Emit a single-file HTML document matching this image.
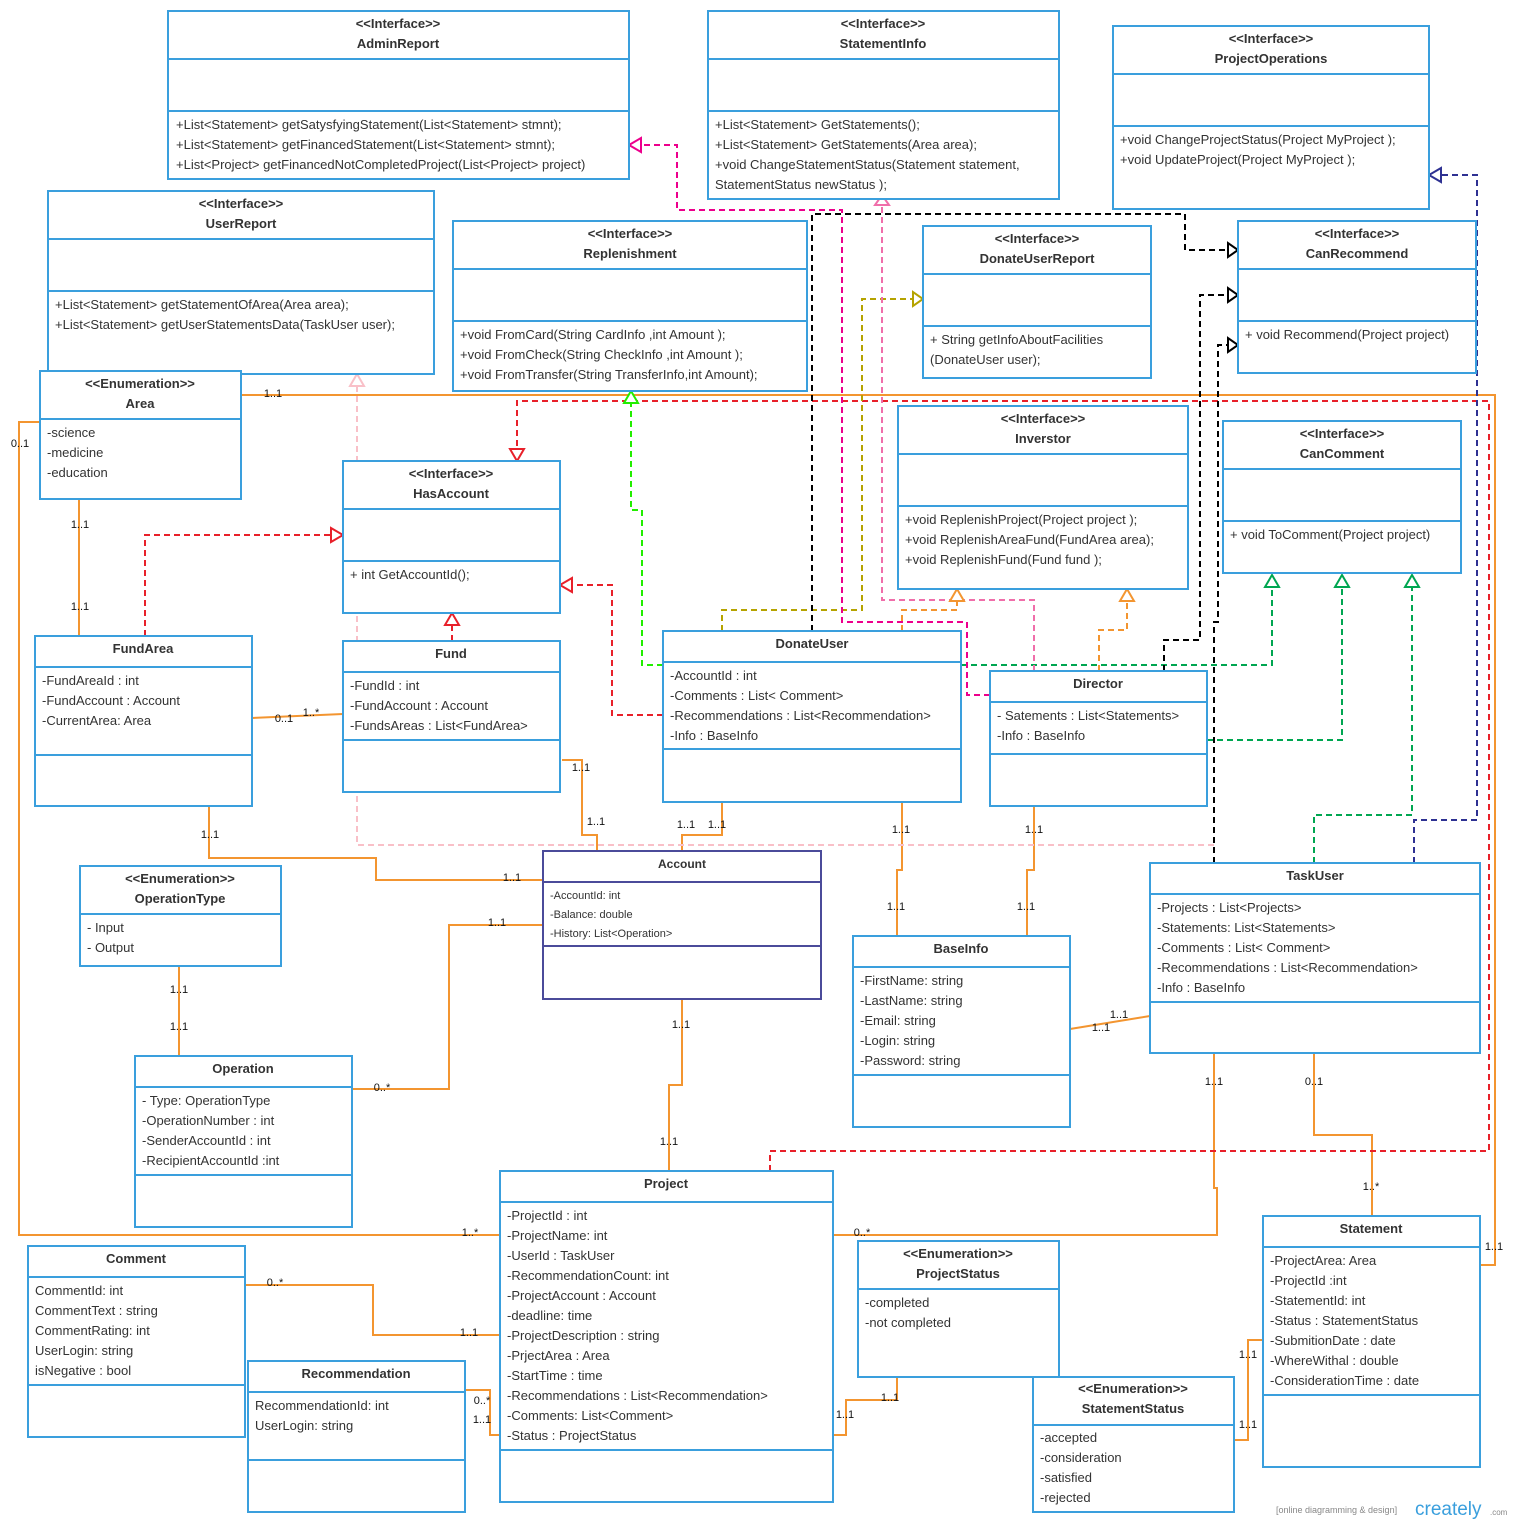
<!DOCTYPE html>
<html><head><meta charset="utf-8"><style>
body{margin:0;background:#fff}
svg text{font-family:"Liberation Sans",sans-serif;fill:#333}
.t{font-size:13px;font-weight:bold;text-anchor:middle}
.a{font-size:13px}
.s{font-size:11px}
.l{font-size:11px;fill:#111;text-anchor:middle}
.b{fill:#fff;stroke:#3a9fdd;stroke-width:2}
.o{fill:none;stroke:#f39530;stroke-width:2}
.d{fill:none;stroke-width:2;stroke-dasharray:6,4}
</style></head><body>
<svg width="1514" height="1525" xmlns="http://www.w3.org/2000/svg">
<!-- connectors -->
<g>
<polyline class="o" points="241,395 1495,395 1495,1265 1480,1265"/>
<polyline class="o" points="40,422 19,422 19,1235 500,1235"/>
<polyline class="o" points="79,499 79,636"/>
<polyline class="o" points="252,718 343,714"/>
<polyline class="o" points="209,806 209,858 376,858 376,880 543,880"/>
<polyline class="o" points="562,760 582,760 582,835 597,835 597,851"/>
<polyline class="o" points="722,802 722,835 682,835 682,851"/>
<polyline class="o" points="543,925 449,925 449,1089 352,1089"/>
<polyline class="o" points="682,999 682,1085 669,1085 669,1171"/>
<polyline class="o" points="902,802 902,870 897,870 897,936"/>
<polyline class="o" points="1034,806 1034,870 1027,870 1027,936"/>
<polyline class="o" points="1070,1029 1150,1016"/>
<polyline class="o" points="179,966 179,1056"/>
<polyline class="o" points="1214,1053 1214,1188 1217,1188 1217,1235 833,1235"/>
<polyline class="o" points="1314,1053 1314,1135 1372,1135 1372,1216"/>
<polyline class="o" points="245,1285 373,1285 373,1335 500,1335"/>
<polyline class="o" points="465,1390 490,1390 490,1435 500,1435"/>
<polyline class="o" points="833,1435 846,1435 846,1400 897,1400 897,1377"/>
<polyline class="o" points="1234,1440 1248,1440 1248,1340 1263,1340"/>

<polyline class="d" stroke="#e8202a" points="770,1171 770,1151 1489,1151 1489,401 517,401 517,450"/>
<polyline class="d" stroke="#e8202a" points="145,636 145,535 332,535"/>
<polyline class="d" stroke="#e8202a" points="663,715 612,715 612,585 571,585"/>
<polyline class="d" stroke="#e8202a" points="452,641 452,624"/>
<polyline class="d" stroke="#22ee00" points="663,665 642,665 642,510 631,510 631,402"/>
<polyline class="d" stroke="#00a651" points="961,665 1272,665 1272,586"/>
<polyline class="d" stroke="#00a651" points="1207,740 1342,740 1342,586"/>
<polyline class="d" stroke="#00a651" points="1314,863 1314,815 1412,815 1412,586"/>
<polyline class="d" stroke="#b5a300" points="722,631 722,610 862,610 862,299 913,299"/>
<polyline class="d" stroke="#000" points="812,631 812,214 1185,214 1185,250 1228,250"/>
<polyline class="d" stroke="#000" points="1164,671 1164,640 1200,640 1200,295 1228,295"/>
<polyline class="d" stroke="#000" points="1214,863 1214,622 1218,622 1218,345 1228,345"/>
<polyline class="d" stroke="#ec008c" points="990,695 967,695 967,622 842,622 842,210 677,210 677,145 640,145"/>
<polyline class="d" stroke="#f06eaa" points="1034,671 1034,600 882,600 882,205"/>
<polyline class="d" stroke="#f9c0c8" points="1214,845 357,845 357,385"/>
<polyline class="d" stroke="#f39530" points="902,631 902,610 957,610 957,600"/>
<polyline class="d" stroke="#f39530" points="1099,671 1099,630 1127,630 1127,600"/>
<polyline class="d" stroke="#2e3192" points="1414,863 1414,820 1477,820 1477,175 1440,175"/>
</g>
<g stroke-width="2" fill="#fff">
<polygon stroke="#e8202a" points="510,449 524,449 517,461"/>
<polygon stroke="#e8202a" points="331,528 331,542 343,535"/>
<polygon stroke="#e8202a" points="572,578 572,592 560,585"/>
<polygon stroke="#e8202a" points="445,625 459,625 452,613"/>
<polygon stroke="#22ee00" points="624,403 638,403 631,391"/>
<polygon stroke="#00a651" points="1265,587 1279,587 1272,575"/>
<polygon stroke="#00a651" points="1335,587 1349,587 1342,575"/>
<polygon stroke="#00a651" points="1405,587 1419,587 1412,575"/>
<polygon stroke="#b5a300" points="913,292 913,306 923,299"/>
<polygon stroke="#000" points="1228,243 1228,257 1238,250"/>
<polygon stroke="#000" points="1228,288 1228,302 1238,295"/>
<polygon stroke="#000" points="1228,338 1228,352 1238,345"/>
<polygon stroke="#ec008c" points="641,138 641,152 629,145"/>
<polygon stroke="#f06eaa" points="875,205 889,205 882,195"/>
<polygon stroke="#f9c0c8" points="350,386 364,386 357,374"/>
<polygon stroke="#f39530" points="950,601 964,601 957,589"/>
<polygon stroke="#f39530" points="1120,601 1134,601 1127,589"/>
<polygon stroke="#2e3192" points="1441,168 1441,182 1429,175"/>
</g>
<!-- labels -->
<g class="l">
<text class="l" x="273" y="397">1..1</text><text class="l" x="20" y="447">0..1</text>
<text class="l" x="470" y="1236">1..*</text><text class="l" x="80" y="528">1..1</text>
<text class="l" x="80" y="610">1..1</text><text class="l" x="284" y="722">0..1</text>
<text class="l" x="311" y="716">1..*</text><text class="l" x="210" y="838">1..1</text>
<text class="l" x="512" y="881">1..1</text><text class="l" x="581" y="771">1..1</text>
<text class="l" x="596" y="825">1..1</text><text class="l" x="686" y="828">1..1</text>
<text class="l" x="717" y="828">1..1</text><text class="l" x="497" y="926">1..1</text>
<text class="l" x="382" y="1091">0..*</text><text class="l" x="681" y="1028">1..1</text>
<text class="l" x="669" y="1145">1..1</text><text class="l" x="901" y="833">1..1</text>
<text class="l" x="896" y="910">1..1</text><text class="l" x="1034" y="833">1..1</text>
<text class="l" x="1026" y="910">1..1</text><text class="l" x="1101" y="1031">1..1</text>
<text class="l" x="1119" y="1018">1..1</text><text class="l" x="179" y="993">1..1</text>
<text class="l" x="179" y="1030">1..1</text><text class="l" x="1214" y="1085">1..1</text>
<text class="l" x="862" y="1236">0..*</text><text class="l" x="1314" y="1085">0..1</text>
<text class="l" x="1371" y="1190">1..*</text><text class="l" x="275" y="1286">0..*</text>
<text class="l" x="469" y="1336">1..1</text><text class="l" x="482" y="1404">0..*</text>
<text class="l" x="482" y="1423">1..1</text><text class="l" x="845" y="1418">1..1</text>
<text class="l" x="890" y="1401">1..1</text><text class="l" x="1248" y="1358">1..1</text>
<text class="l" x="1248" y="1428">1..1</text><text class="l" x="1494" y="1250">1..1</text>
</g>
<!-- boxes -->
<g>
<rect class="b" x="168" y="11" width="461" height="168"/><path class="b" d="M168 59H629M168 111H629"/>
<text class="t" x="398" y="28">&lt;&lt;Interface&gt;&gt;</text><text class="t" x="398" y="48">AdminReport</text>
<text class="a" x="176" y="129">+List&lt;Statement&gt; getSatysfyingStatement(List&lt;Statement&gt; stmnt);</text>
<text class="a" x="176" y="149">+List&lt;Statement&gt; getFinancedStatement(List&lt;Statement&gt; stmnt);</text>
<text class="a" x="176" y="169">+List&lt;Project&gt; getFinancedNotCompletedProject(List&lt;Project&gt; project)</text>

<rect class="b" x="708" y="11" width="351" height="188"/><path class="b" d="M708 59H1059M708 111H1059"/>
<text class="t" x="883" y="28">&lt;&lt;Interface&gt;&gt;</text><text class="t" x="883" y="48">StatementInfo</text>
<text class="a" x="715" y="129">+List&lt;Statement&gt; GetStatements();</text>
<text class="a" x="715" y="149">+List&lt;Statement&gt; GetStatements(Area area);</text>
<text class="a" x="715" y="169">+void ChangeStatementStatus(Statement statement,</text>
<text class="a" x="715" y="189">StatementStatus newStatus );</text>

<rect class="b" x="1113" y="26" width="316" height="183"/><path class="b" d="M1113 74H1429M1113 126H1429"/>
<text class="t" x="1271" y="43">&lt;&lt;Interface&gt;&gt;</text><text class="t" x="1271" y="63">ProjectOperations</text>
<text class="a" x="1120" y="144">+void ChangeProjectStatus(Project MyProject );</text>
<text class="a" x="1120" y="164">+void UpdateProject(Project MyProject );</text>

<rect class="b" x="48" y="191" width="386" height="183"/><path class="b" d="M48 239H434M48 291H434"/>
<text class="t" x="241" y="208">&lt;&lt;Interface&gt;&gt;</text><text class="t" x="241" y="228">UserReport</text>
<text class="a" x="55" y="309">+List&lt;Statement&gt; getStatementOfArea(Area area);</text>
<text class="a" x="55" y="329">+List&lt;Statement&gt; getUserStatementsData(TaskUser user);</text>

<rect class="b" x="453" y="221" width="354" height="170"/><path class="b" d="M453 269H807M453 321H807"/>
<text class="t" x="630" y="238">&lt;&lt;Interface&gt;&gt;</text><text class="t" x="630" y="258">Replenishment</text>
<text class="a" x="460" y="339">+void FromCard(String CardInfo ,int Amount );</text>
<text class="a" x="460" y="359">+void FromCheck(String CheckInfo ,int Amount );</text>
<text class="a" x="460" y="379">+void FromTransfer(String TransferInfo,int Amount);</text>

<rect class="b" x="923" y="226" width="228" height="152"/><path class="b" d="M923 274H1151M923 326H1151"/>
<text class="t" x="1037" y="243">&lt;&lt;Interface&gt;&gt;</text><text class="t" x="1037" y="263">DonateUserReport</text>
<text class="a" x="930" y="344">+ String getInfoAboutFacilities</text>
<text class="a" x="930" y="364">(DonateUser user);</text>

<rect class="b" x="1238" y="221" width="238" height="152"/><path class="b" d="M1238 269H1476M1238 321H1476"/>
<text class="t" x="1357" y="238">&lt;&lt;Interface&gt;&gt;</text><text class="t" x="1357" y="258">CanRecommend</text>
<text class="a" x="1245" y="339">+ void Recommend(Project project)</text>

<rect class="b" x="40" y="371" width="201" height="128"/><path class="b" d="M40 419H241"/>
<text class="t" x="140" y="388">&lt;&lt;Enumeration&gt;&gt;</text><text class="t" x="140" y="408">Area</text>
<text class="a" x="47" y="437">-science</text><text class="a" x="47" y="457">-medicine</text><text class="a" x="47" y="477">-education</text>

<rect class="b" x="343" y="461" width="217" height="152"/><path class="b" d="M343 509H560M343 561H560"/>
<text class="t" x="451" y="478">&lt;&lt;Interface&gt;&gt;</text><text class="t" x="451" y="498">HasAccount</text>
<text class="a" x="350" y="579">+ int GetAccountId();</text>

<rect class="b" x="898" y="406" width="290" height="183"/><path class="b" d="M898 454H1188M898 506H1188"/>
<text class="t" x="1043" y="423">&lt;&lt;Interface&gt;&gt;</text><text class="t" x="1043" y="443">Inverstor</text>
<text class="a" x="905" y="524">+void ReplenishProject(Project project );</text>
<text class="a" x="905" y="544">+void ReplenishAreaFund(FundArea area);</text>
<text class="a" x="905" y="564">+void ReplenishFund(Fund fund );</text>

<rect class="b" x="1223" y="421" width="238" height="152"/><path class="b" d="M1223 469H1461M1223 521H1461"/>
<text class="t" x="1342" y="438">&lt;&lt;Interface&gt;&gt;</text><text class="t" x="1342" y="458">CanComment</text>
<text class="a" x="1230" y="539">+ void ToComment(Project project)</text>

<rect class="b" x="35" y="636" width="217" height="170"/><path class="b" d="M35 667H252M35 755H252"/>
<text class="t" x="143" y="653">FundArea</text>
<text class="a" x="42" y="685">-FundAreaId : int</text><text class="a" x="42" y="705">-FundAccount : Account</text><text class="a" x="42" y="725">-CurrentArea: Area</text>

<rect class="b" x="343" y="641" width="217" height="151"/><path class="b" d="M343 672H560M343 740H560"/>
<text class="t" x="451" y="658">Fund</text>
<text class="a" x="350" y="690">-FundId : int</text><text class="a" x="350" y="710">-FundAccount : Account</text><text class="a" x="350" y="730">-FundsAreas :  List&lt;FundArea&gt;</text>

<rect class="b" x="663" y="631" width="298" height="171"/><path class="b" d="M663 662H961M663 749H961"/>
<text class="t" x="812" y="648">DonateUser</text>
<text class="a" x="670" y="680">-AccountId : int</text><text class="a" x="670" y="700">-Comments : List&lt; Comment&gt;</text>
<text class="a" x="670" y="720">-Recommendations : List&lt;Recommendation&gt;</text><text class="a" x="670" y="740">-Info : BaseInfo</text>

<rect class="b" x="990" y="671" width="217" height="135"/><path class="b" d="M990 702H1207M990 754H1207"/>
<text class="t" x="1098" y="688">Director</text>
<text class="a" x="997" y="720">- Satements : List&lt;Statements&gt;</text><text class="a" x="997" y="740">-Info : BaseInfo</text>

<rect class="b" x="80" y="866" width="201" height="100"/><path class="b" d="M80 914H281"/>
<text class="t" x="180" y="883">&lt;&lt;Enumeration&gt;&gt;</text><text class="t" x="180" y="903">OperationType</text>
<text class="a" x="87" y="932">- Input</text><text class="a" x="87" y="952">- Output</text>

<rect x="543" y="851" width="278" height="148" fill="#fff" stroke="#4b4b9a" stroke-width="2"/><path d="M543 882H821M543 946H821" stroke="#4b4b9a" stroke-width="2"/>
<text class="t" x="682" y="868" style="font-size:12px">Account</text>
<text class="s" x="550" y="899">-AccountId: int</text><text class="s" x="550" y="918">-Balance: double</text><text class="s" x="550" y="937">-History: List&lt;Operation&gt;</text>

<rect class="b" x="1150" y="863" width="330" height="190"/><path class="b" d="M1150 894H1480M1150 1002H1480"/>
<text class="t" x="1315" y="880">TaskUser</text>
<text class="a" x="1157" y="912">-Projects : List&lt;Projects&gt;</text><text class="a" x="1157" y="932">-Statements: List&lt;Statements&gt;</text>
<text class="a" x="1157" y="952">-Comments : List&lt; Comment&gt;</text><text class="a" x="1157" y="972">-Recommendations : List&lt;Recommendation&gt;</text>
<text class="a" x="1157" y="992">-Info : BaseInfo</text>

<rect class="b" x="853" y="936" width="217" height="191"/><path class="b" d="M853 967H1070M853 1075H1070"/>
<text class="t" x="961" y="953">BaseInfo</text>
<text class="a" x="860" y="985">-FirstName: string</text><text class="a" x="860" y="1005">-LastName: string</text>
<text class="a" x="860" y="1025">-Email: string</text><text class="a" x="860" y="1045">-Login: string</text><text class="a" x="860" y="1065">-Password: string</text>

<rect class="b" x="135" y="1056" width="217" height="171"/><path class="b" d="M135 1087H352M135 1175H352"/>
<text class="t" x="243" y="1073">Operation</text>
<text class="a" x="142" y="1105">- Type: OperationType</text><text class="a" x="142" y="1125">-OperationNumber : int</text>
<text class="a" x="142" y="1145">-SenderAccountId : int</text><text class="a" x="142" y="1165">-RecipientAccountId :int</text>

<rect class="b" x="500" y="1171" width="333" height="331"/><path class="b" d="M500 1202H833M500 1450H833"/>
<text class="t" x="666" y="1188">Project</text>
<text class="a" x="507" y="1220">-ProjectId : int</text><text class="a" x="507" y="1240">-ProjectName: int</text>
<text class="a" x="507" y="1260">-UserId : TaskUser</text><text class="a" x="507" y="1280">-RecommendationCount: int</text>
<text class="a" x="507" y="1300">-ProjectAccount : Account</text><text class="a" x="507" y="1320">-deadline: time</text>
<text class="a" x="507" y="1340">-ProjectDescription : string</text><text class="a" x="507" y="1360">-PrjectArea : Area</text>
<text class="a" x="507" y="1380">-StartTime : time</text><text class="a" x="507" y="1400">-Recommendations : List&lt;Recommendation&gt;</text>
<text class="a" x="507" y="1420">-Comments: List&lt;Comment&gt;</text><text class="a" x="507" y="1440">-Status : ProjectStatus</text>

<rect class="b" x="28" y="1246" width="217" height="191"/><path class="b" d="M28 1277H245M28 1385H245"/>
<text class="t" x="136" y="1263">Comment</text>
<text class="a" x="35" y="1295">CommentId: int</text><text class="a" x="35" y="1315">CommentText : string</text>
<text class="a" x="35" y="1335">CommentRating: int</text><text class="a" x="35" y="1355">UserLogin: string</text><text class="a" x="35" y="1375">isNegative : bool</text>

<rect class="b" x="248" y="1361" width="217" height="151"/><path class="b" d="M248 1392H465M248 1460H465"/>
<text class="t" x="356" y="1378">Recommendation</text>
<text class="a" x="255" y="1410">RecommendationId: int</text><text class="a" x="255" y="1430">UserLogin: string</text>

<rect class="b" x="858" y="1241" width="201" height="136"/><path class="b" d="M858 1289H1059"/>
<text class="t" x="958" y="1258">&lt;&lt;Enumeration&gt;&gt;</text><text class="t" x="958" y="1278">ProjectStatus</text>
<text class="a" x="865" y="1307">-completed</text><text class="a" x="865" y="1327">-not completed</text>

<rect class="b" x="1033" y="1377" width="201" height="135"/><path class="b" d="M1033 1425H1234"/>
<text class="t" x="1133" y="1393">&lt;&lt;Enumeration&gt;&gt;</text><text class="t" x="1133" y="1413">StatementStatus</text>
<text class="a" x="1040" y="1442">-accepted</text><text class="a" x="1040" y="1462">-consideration</text>
<text class="a" x="1040" y="1482">-satisfied</text><text class="a" x="1040" y="1502">-rejected</text>

<rect class="b" x="1263" y="1216" width="217" height="251"/><path class="b" d="M1263 1247H1480M1263 1395H1480"/>
<text class="t" x="1371" y="1233">Statement</text>
<text class="a" x="1270" y="1265">-ProjectArea: Area</text><text class="a" x="1270" y="1285">-ProjectId :int</text>
<text class="a" x="1270" y="1305">-StatementId: int</text><text class="a" x="1270" y="1325">-Status :  StatementStatus</text>
<text class="a" x="1270" y="1345">-SubmitionDate : date</text><text class="a" x="1270" y="1365">-WhereWithal : double</text>
<text class="a" x="1270" y="1385">-ConsiderationTime : date</text>
</g>
<text x="1276" y="1513" style="font-size:9px;fill:#888">[online diagramming &amp; design]</text>
<text x="1415" y="1515" style="font-size:19px;fill:#3a9fdd">creately</text>
<text x="1490" y="1515" style="font-size:8px;fill:#888">.com</text>
</svg>
</body></html>
